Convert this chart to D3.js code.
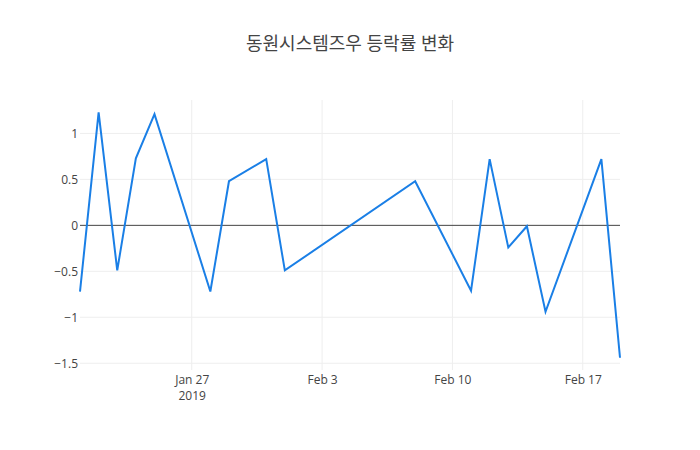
<!DOCTYPE html>
<html>
<head>
<meta charset="utf-8">
<script src="https://cdn.jsdelivr.net/npm/d3@7"></script>
<style>
  html, body { margin: 0; padding: 0; background: #fff; }
  svg { display: block; font-family: "Open Sans", "Noto Sans CJK KR", sans-serif; }
</style>
</head>
<body>
<svg id="chart" width="700" height="450"></svg>
<script>
const title = "동원시스템즈우 등락률 변화";
const dates = ["2019-01-21","2019-01-22","2019-01-23","2019-01-24","2019-01-25",
  "2019-01-28","2019-01-29","2019-01-31","2019-02-01","2019-02-08",
  "2019-02-11","2019-02-12","2019-02-13","2019-02-14","2019-02-15",
  "2019-02-18","2019-02-19"];
const changes = [-0.72, 1.23, -0.49, 0.73, 1.21,
  -0.72, 0.48, 0.72, -0.49, 0.48,
  -0.71, 0.72, -0.24, -0.01, -0.94,
  0.72, -1.44];
const yTicks = [-1.5, -1, -0.5, 0, 0.5, 1];
const xTickDates = ["2019-01-27","2019-02-03","2019-02-10","2019-02-17"];

const svg = d3.select("#chart");
const W = 700, H = 450;
const m = {l: 80, r: 80, t: 100, b: 80};
const parse = d3.utcParse("%Y-%m-%d");
const data = dates.map((d, i) => ({date: parse(d), v: changes[i]}));

const x = d3.scaleUtc()
  .domain(d3.extent(data, d => d.date))
  .range([m.l, W - m.r]);
const ext = d3.extent(changes);
const pad = (ext[1] - ext[0]) * 0.05;
const y = d3.scaleLinear()
  .domain([ext[0] - pad, ext[1] + pad])
  .range([H - m.b, m.t]);

const fmtY = v => (v < 0 ? "\u2212" : "") + Math.abs(v);
const xt = xTickDates.map(parse);

// gridlines
svg.append("g").selectAll("line").data(xt).join("line")
  .attr("x1", d => x(d)).attr("x2", d => x(d))
  .attr("y1", m.t).attr("y2", H - m.b)
  .attr("stroke", "#eee").attr("stroke-width", 1);
svg.append("g").selectAll("line").data(yTicks.filter(v => v !== 0)).join("line")
  .attr("x1", m.l).attr("x2", W - m.r)
  .attr("y1", d => y(d)).attr("y2", d => y(d))
  .attr("stroke", "#eee").attr("stroke-width", 1);

// y axis labels
const yAxis = d3.axisLeft(y).tickValues(yTicks).tickSize(0).tickPadding(2).tickFormat(fmtY);
const gy = svg.append("g").attr("transform", `translate(${m.l},0)`).call(yAxis);
gy.select(".domain").remove();
gy.selectAll("text").attr("fill", "#444").style("font-size", "12px")
  .style("font-family", "'Open Sans', sans-serif");

// x axis labels
const xAxis = d3.axisBottom(x).tickValues(xt).tickSize(0).tickPadding(5)
  .tickFormat(d3.utcFormat("%b %-d"));
const gx = svg.append("g").attr("transform", `translate(0,${H - m.b})`).call(xAxis);
gx.select(".domain").remove();
gx.selectAll("text").attr("fill", "#444").style("font-size", "12px")
  .style("font-family", "'Open Sans', sans-serif");
gx.selectAll(".tick").filter((d, i) => i === 0).append("text")
  .attr("y", 21).attr("dy", "0.71em").attr("fill", "#444")
  .attr("text-anchor", "middle")
  .style("font-size", "12px").style("font-family", "'Open Sans', sans-serif")
  .text(d => d3.utcFormat("%Y")(d));

// zero line
svg.append("line")
  .attr("x1", m.l).attr("x2", W - m.r)
  .attr("y1", y(0)).attr("y2", y(0))
  .attr("stroke", "#444").attr("stroke-width", 1);

// data line
const line = d3.line().x(d => x(d.date)).y(d => y(d.v));
svg.append("path").datum(data)
  .attr("d", line)
  .attr("fill", "none")
  .attr("stroke", "#1a7fe6")
  .attr("stroke-width", 2)
  .attr("stroke-linejoin", "miter");

// title
svg.append("text")
  .attr("x", W / 2).attr("y", 50)
  .attr("text-anchor", "middle")
  .attr("fill", "#444")
  .style("font-size", "18px")
  .style("font-family", "'Open Sans', 'Noto Sans CJK KR', sans-serif")
  .text(title);
</script>
</body>
</html>
